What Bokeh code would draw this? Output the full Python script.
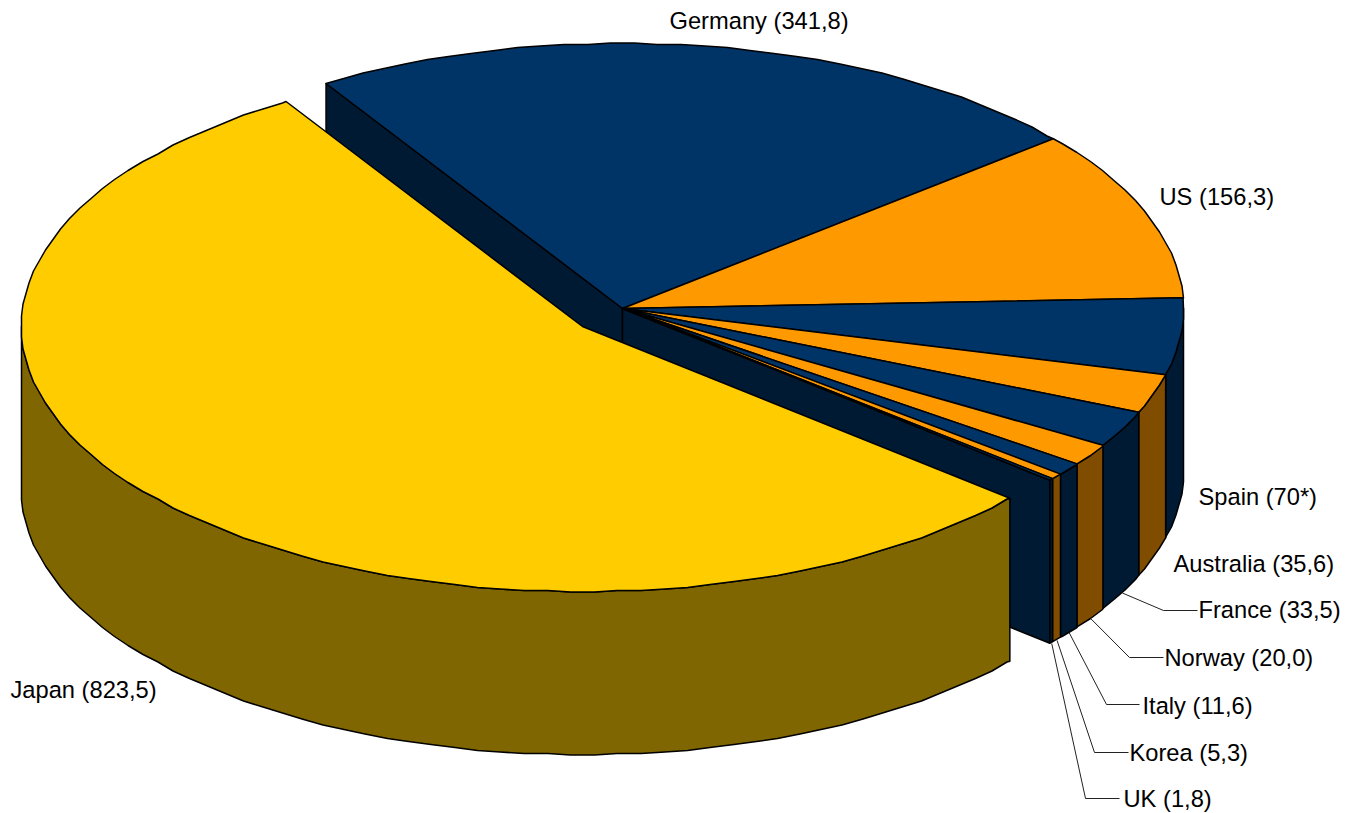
import math
from bokeh.plotting import figure
from bokeh.models import Range1d, ColumnDataSource
from bokeh.core.properties import value
from bokeh.embed import file_html
from bokeh.resources import INLINE

countries = ["Japan", "Germany", "US", "Spain", "Australia", "France", "Norway", "Italy", "Korea", "UK"]
amounts = [823.5, 341.8, 156.3, 70.0, 35.6, 33.5, 20.0, 11.6, 5.3, 1.8]
amount_text = ["823,5", "341,8", "156,3", "70*", "35,6", "33,5", "20,0", "11,6", "5,3", "1,8"]
top_colors = ["#FFCC00", "#003366", "#FF9900", "#003366", "#FF9900", "#003366", "#FF9900", "#003366", "#FF9900", "#003366"]
side_colors = ["#806600", "#001A33", "#804D00", "#001A33", "#804D00", "#001A33", "#804D00", "#001A33", "#804D00", "#001A33"]

# label layout: left x, centre y
label_x = [10, 669, 1159, 1198, 1173, 1198, 1164, 1142, 1129, 1123]
label_y = [689, 20, 196, 496, 563, 609, 657, 705, 752, 798]
# leader elbows and ends (only the small slices have leaders)
leader_elbow = {"France": (1163, 610, 1197), "Norway": (1129, 657, 1163), "Italy": (1106, 704, 1139),
                "Korea": (1094, 752, 1128), "UK": (1085, 798, 1119)}

CX, CY = 622, 308      # centre of the pie
JX, JY = 582, 326      # centre of the pulled-out Japan slice
RX, RY = 561, 265
DEPTH = 163
START = 121.9
STEP = 2.4             # the reference outline is a coarse polyline
SNAP = 1.5

p = figure(width=1352, height=813, output_backend="svg", toolbar_location=None,
           x_range=Range1d(0, 1352), y_range=Range1d(813, 0), min_border=0,
           outline_line_color=None)
p.axis.visible = False
p.grid.visible = False


def rim(cx, cy, a0, a1, drop=0):
    lo, hi = min(a0, a1), max(a0, a1)
    angles = [lo] + [k * STEP for k in range(math.ceil(lo / STEP), math.floor(hi / STEP) + 1)
                     if lo < k * STEP < hi] + [hi]
    if a0 > a1:
        angles.reverse()
    xs, ys = [], []
    for i, ang in enumerate(angles):
        t = math.radians(ang)
        x, y = RX * math.cos(t), RY * math.sin(t)
        if 0 < i < len(angles) - 1:
            x, y = round(x / SNAP) * SNAP, round(y / SNAP) * SNAP
        xs.append(cx + x)
        ys.append(cy - y + drop)
    return xs, ys


total = sum(amounts)
# Japan runs counter-clockwise from START; the rest clockwise from START
spans = [(START, START + amounts[0] / total * 360)]
a = START
for v in amounts[1:]:
    spans.append((a, a - v / total * 360))
    a -= v / total * 360

tops, sides, walls = [], [], []

# inner walls of the main pie
for ang in (START, spans[-1][1]):
    t = math.radians(ang)
    ex, ey = CX + RX * math.cos(t), CY - RY * math.sin(t)
    walls.append(([CX, ex, ex, CX], [CY, ey, ey + DEPTH, CY + DEPTH], side_colors[1]))

for i in range(1, len(amounts)):
    a0, a1 = spans[i]
    xs, ys = rim(CX, CY, a0, a1)
    tops.append(([CX] + xs, [CY] + ys, top_colors[i]))
    hi = min(a0, 0)
    if hi > a1:
        sx, sy = rim(CX, CY, hi, a1)
        bx, by = rim(CX, CY, a1, hi, DEPTH)
        sides.append((sx + bx, sy + by, side_colors[i]))


def draw(items):
    src = ColumnDataSource(dict(x=[it[0] for it in items], y=[it[1] for it in items], c=[it[2] for it in items]))
    p.patches("x", "y", source=src, fill_color="c", line_color="black", line_width=1.5, line_join="round")


draw(walls)
draw(sides)
draw(tops)

# Japan: side then top, drawn over the main pie
a0, a1 = spans[0]
sx, sy = rim(JX, JY, 180, a1)
bx, by = rim(JX, JY, a1, 180, DEPTH)
draw([(sx + bx, sy + by, side_colors[0])])
tx, ty = rim(JX, JY, a0, a1)
draw([([JX] + tx, [JY] + ty, top_colors[0])])

# leaders
lx, ly = [], []
for name, (ex, ey, endx) in leader_elbow.items():
    i = countries.index(name)
    mid = math.radians((spans[i][0] + spans[i][1]) / 2)
    lx.append([CX + RX * math.cos(mid) + 0.5, ex, endx])
    ly.append([CY - RY * math.sin(mid) + DEPTH + 1, ey, ey])
p.multi_line(lx, ly, line_color="#222222", line_width=1)

p.text(x=label_x, y=label_y,
       text=[f"{c} ({t})" for c, t in zip(countries, amount_text)],
       text_font=value("Liberation Sans"), text_font_size="23.7px", text_color="black",
       text_align="left", text_baseline="middle")

open("out.html", "w").write(file_html(p, INLINE))
